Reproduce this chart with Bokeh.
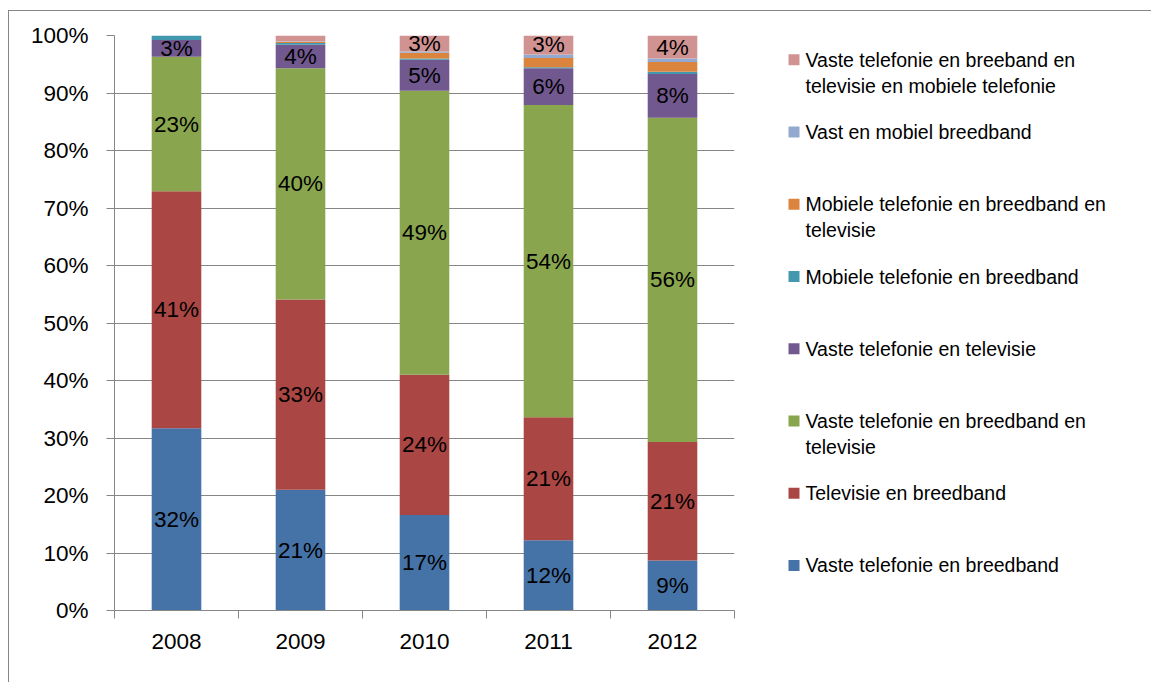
from bokeh.plotting import figure
from bokeh.layouts import row
from bokeh.models import Range1d, FixedTicker, ColumnDataSource, InlineStyleSheet
from bokeh.core.properties import value
from bokeh.embed import file_html
from bokeh.resources import INLINE

# ---- data -------------------------------------------------------------
years = ["2008", "2009", "2010", "2011", "2012"]

vaste_tel_breedband = [31.7, 21.0, 16.6, 12.2, 8.7]
televisie_breedband = [41.2, 33.1, 24.4, 21.4, 20.6]
vaste_tel_breedband_tv = [23.4, 40.2, 49.4, 54.3, 56.4]
vaste_tel_tv = [2.9, 4.1, 5.4, 6.4, 7.6]
mobiel_tel_breedband = [0.8, 0.3, 0.2, 0.2, 0.4]
mobiel_tel_breedband_tv = [0.0, 0.2, 1.0, 1.6, 1.7]
vast_mobiel_breedband = [0.0, 0.1, 0.2, 0.6, 0.6]
alles_vier = [0.0, 1.0, 2.8, 3.3, 4.0]

series_names = [
    "Vaste telefonie en breedband",
    "Televisie en breedband",
    "Vaste telefonie en breedband en\ntelevisie",
    "Vaste telefonie en televisie",
    "Mobiele telefonie en breedband",
    "Mobiele telefonie en breedband en\ntelevisie",
    "Vast en mobiel breedband",
    "Vaste telefonie en breeband en\ntelevisie en mobiele telefonie",
]
series_values = [
    vaste_tel_breedband, televisie_breedband, vaste_tel_breedband_tv, vaste_tel_tv,
    mobiel_tel_breedband, mobiel_tel_breedband_tv, vast_mobiel_breedband, alles_vier,
]
colors = ["#4572A7", "#AA4643", "#89A54E", "#71588F",
          "#4198AF", "#DB843D", "#93A9CF", "#D19392"]
y_ticks = list(range(0, 101, 10))

FONT = "Liberation Sans"
GRID = "#868686"

# ---- main chart -------------------------------------------------------
MAIN_W, H = 740, 682
TOP, BOTTOM = 35, 72
p = figure(width=MAIN_W, height=H, output_backend="svg", toolbar_location=None,
           x_range=Range1d(0, len(years)), y_range=Range1d(0, 100),
           min_border_left=114, min_border_right=6, min_border_top=TOP,
           min_border_bottom=BOTTOM)
p.outline_line_color = None

centers = [i + 0.5 for i in range(len(years))]
keys = [f"s{i}" for i in range(len(series_values))]
data = {"x": centers}
for k, v in zip(keys, series_values):
    data[k] = v
src = ColumnDataSource(data)
p.vbar_stack(keys, x="x", width=0.4, fill_color=colors, line_color=None, source=src)

# data labels
lx, ly, lt = [], [], []
for j in range(len(years)):
    base = 0.0
    for v in series_values:
        vv = v[j]
        if vv >= 2.5:
            lx.append(centers[j])
            ly.append(base + vv / 2)
            lt.append(f"{round(vv)}%")
        base += vv
p.text(x=lx, y=ly, text=lt, text_align="center", text_baseline="middle",
       text_font=value(FONT), text_font_size="22.5px", text_color="black")

# x axis
xa = p.xaxis[0]
xa.ticker = FixedTicker(ticks=centers, minor_ticks=list(range(len(years) + 1)))
xa.major_label_overrides = {c: y for c, y in zip(centers, years)}
xa.major_tick_line_color = None
xa.minor_tick_line_color = GRID
xa.minor_tick_out = 8
xa.minor_tick_in = 0
xa.axis_line_color = GRID
xa.major_label_text_font = FONT
xa.major_label_text_font_size = "22.5px"
xa.major_label_text_color = "black"
xa.major_label_standoff = 15

# y axis
ya = p.yaxis[0]
ya.ticker = FixedTicker(ticks=y_ticks)
ya.major_label_overrides = {t: f"{t}%" for t in y_ticks}
ya.major_tick_line_color = GRID
ya.major_tick_out = 8
ya.major_tick_in = 0
ya.minor_tick_line_color = None
ya.axis_line_color = GRID
ya.major_label_text_font = FONT
ya.major_label_text_font_size = "22.5px"
ya.major_label_text_color = "black"
ya.major_label_standoff = 18

p.xgrid.visible = False
p.ygrid.ticker = FixedTicker(ticks=y_ticks)
p.ygrid.grid_line_color = GRID
p.ygrid.grid_line_alpha = 1.0

# ---- legend panel (its frame is aligned with the main frame; coords = page px)
LEG_W = 1151 - MAIN_W
lg = figure(width=LEG_W, height=H, output_backend="svg", toolbar_location=None,
            x_range=Range1d(MAIN_W, 1151), y_range=Range1d(H - BOTTOM, TOP),
            min_border=0, min_border_top=TOP, min_border_bottom=BOTTOM,
            x_axis_location=None, y_axis_location=None)
lg.outline_line_color = None
lg.xgrid.visible = False
lg.ygrid.visible = False

y0, step = 59.3, 72.24
sq_y, sq_c, tx, ty, tt = [], [], [], [], []
for i, idx in enumerate(reversed(range(len(series_names)))):
    yc = y0 + i * step
    sq_y.append(yc)
    sq_c.append(colors[idx])
    for k, line in enumerate(series_names[idx].split("\n")):
        tx.append(805)
        ty.append(yc + k * 26)
        tt.append(line)
lg.rect(x=[793.5] * len(sq_y), y=sq_y, width=11, height=11,
        fill_color=sq_c, line_color=None)
lg.text(x=tx, y=ty, text=tt, text_align="left", text_baseline="middle",
        text_font=value(FONT), text_font_size="19.5px", text_color="black")

css = InlineStyleSheet(css="""
:host { position: relative; }
:host::after { content: ''; position: absolute; left: 8px; top: 10px; right: 0; bottom: 0;
  border-left: 1px solid #868686; border-top: 1px solid #868686; pointer-events: none; }
""")
layout = row(p, lg, stylesheets=[css])

open("out.html", "w").write(file_html(layout, INLINE))
